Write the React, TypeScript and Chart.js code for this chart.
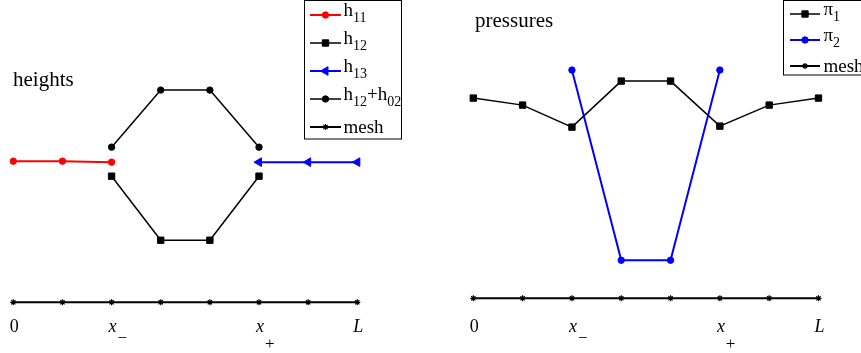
import React, { useEffect, useRef } from 'react';
import { Chart, registerables } from 'chart.js';
Chart.register(...registerables);

// ---------- data ----------
const meshX = [0, 1, 2, 3, 4, 5, 6, 7];
const meshLeft = [0, 0, 0, 0, 0, 0, 0, 0];
const meshRight = [0, 0, 0, 0, 0, 0, 0, 0];

const h11X = [0, 1, 2];
const h11 = [1.41, 1.41, 1.4];
const h12X = [2, 3, 4, 5];
const h12 = [1.26, 0.62, 0.62, 1.26];
const h13X = [5, 6, 7];
const h13 = [1.4, 1.4, 1.4];
const h12h02X = [2, 3, 4, 5];
const h12h02 = [1.55, 2.12, 2.12, 1.55];

const pi1X = [0, 1, 2, 3, 4, 5, 6, 7];
const pi1 = [2.0, 1.93, 1.71, 2.17, 2.17, 1.72, 1.93, 2.0];
const pi2X = [2, 3, 4, 5];
const pi2 = [2.28, 0.38, 0.38, 2.28];

const tickValues = [0, 2, 5, 7];
const tickMain = ['0', 'x', 'x', 'L'];
const tickSub = ['', '\u2212', '+', ''];
const tickItalic = [false, true, true, true];

type Part = { t: string; sub?: boolean };
const leftLegendLabels: Part[][] = [
  [{ t: 'h' }, { t: '11', sub: true }],
  [{ t: 'h' }, { t: '12', sub: true }],
  [{ t: 'h' }, { t: '13', sub: true }],
  [{ t: 'h' }, { t: '12', sub: true }, { t: '+h' }, { t: '02', sub: true }],
  [{ t: 'mesh' }],
];
const rightLegendLabels: Part[][] = [
  [{ t: '\u03c0' }, { t: '1', sub: true }],
  [{ t: '\u03c0' }, { t: '2', sub: true }],
  [{ t: 'mesh' }],
];

const SERIF = "'Liberation Serif', 'DejaVu Serif', serif";
const RED = '#ff0000';
const BLUE = '#0000ff';
const BLACK = '#000000';

type Marker = { style: string; color: string; lw: number; size: number };

function drawMarker(ctx: CanvasRenderingContext2D, x: number, y: number, m: Marker) {
  ctx.save();
  ctx.fillStyle = m.color;
  ctx.strokeStyle = m.color;
  ctx.lineWidth = 1;
  const r = m.size;
  ctx.beginPath();
  if (m.style === 'circle') {
    ctx.arc(x, y, r, 0, Math.PI * 2);
    ctx.fill();
    ctx.stroke();
  } else if (m.style === 'rect') {
    const s = Math.SQRT1_2 * r;
    ctx.rect(x - s, y - s, 2 * s, 2 * s);
    ctx.fill();
    ctx.stroke();
  } else if (m.style === 'triLeft') {
    ctx.moveTo(x - r, y);
    ctx.lineTo(x + r * 0.5, y - r * 0.866);
    ctx.lineTo(x + r * 0.5, y + r * 0.866);
    ctx.closePath();
    ctx.fill();
    ctx.stroke();
  } else if (m.style === 'star') {
    ctx.lineWidth = 1.2;
    ctx.moveTo(x - r, y);
    ctx.lineTo(x + r, y);
    ctx.moveTo(x, y - r);
    ctx.lineTo(x, y + r);
    const d = r * 0.707;
    ctx.moveTo(x - d, y - d);
    ctx.lineTo(x + d, y + d);
    ctx.moveTo(x - d, y + d);
    ctx.lineTo(x + d, y - d);
    ctx.stroke();
  }
  ctx.restore();
}

function drawRich(
  ctx: CanvasRenderingContext2D,
  x: number,
  baseY: number,
  parts: Part[],
  mainFont: string,
  subFont: string,
  subDy: number
) {
  let cx = x;
  ctx.textAlign = 'left';
  ctx.textBaseline = 'alphabetic';
  for (const p of parts) {
    ctx.font = p.sub ? subFont : mainFont;
    ctx.fillText(p.t, cx, p.sub ? baseY + subDy : baseY);
    cx += ctx.measureText(p.t).width;
  }
  return cx - x;
}

type PanelCfg = {
  title: string;
  titleX: number;
  titleY: number;
  legend: {
    x0: number;
    x1: number;
    y1: number;
    rowY0: number;
    rowStep: number;
    lineX0: number;
    lineX1: number;
    textX: number;
    labels: Part[][];
    markers: Marker[];
    lineColors: string[];
    lineWidths: number[];
  };
};

function makeOverlay(cfg: PanelCfg) {
  return {
    id: 'overlay',
    afterDraw(chart: any) {
      const ctx: CanvasRenderingContext2D = chart.ctx;
      const xs = chart.scales.x;
      ctx.save();
      ctx.fillStyle = '#000';
      // title
      ctx.font = `21px ${SERIF}`;
      ctx.textAlign = 'left';
      ctx.textBaseline = 'alphabetic';
      ctx.fillText(cfg.title, cfg.titleX, cfg.titleY);

      // tick labels
      tickValues.forEach((v, i) => {
        const px = xs.getPixelForValue(v) + 1;
        const mf = `${tickItalic[i] ? 'italic ' : ''}18px ${SERIF}`;
        ctx.font = mf;
        const w = ctx.measureText(tickMain[i]).width;
        const left = px - w / 2;
        ctx.textAlign = 'left';
        ctx.fillText(tickMain[i], left, 332);
        if (tickSub[i]) {
          ctx.font = `17px ${SERIF}`;
          ctx.fillText(tickSub[i], left + w + 1, tickSub[i] === '+' ? 349 : 343);
        }
      });

      // legend
      const L = cfg.legend;
      ctx.fillStyle = '#fff';
      ctx.fillRect(L.x0, 0.5, L.x1 - L.x0, L.y1 - 0.5);
      ctx.strokeStyle = '#000';
      ctx.lineWidth = 1;
      ctx.strokeRect(L.x0, 0.5, L.x1 - L.x0, L.y1 - 0.5);
      L.labels.forEach((parts, i) => {
        const y = L.rowY0 + i * L.rowStep;
        ctx.beginPath();
        ctx.strokeStyle = L.lineColors[i];
        ctx.lineWidth = L.lineWidths[i];
        ctx.moveTo(L.lineX0, y);
        ctx.lineTo(L.lineX1, y);
        ctx.stroke();
        drawMarker(ctx, (L.lineX0 + L.lineX1) / 2, y, L.markers[i]);
        ctx.fillStyle = '#000';
        const hasSub = parts.some((p) => p.sub);
        drawRich(
          ctx,
          L.textX,
          hasSub ? y + 1 : y + 5.5,
          parts,
          `19px ${SERIF}`,
          `14px ${SERIF}`,
          6
        );
      });
      ctx.restore();
    },
  };
}

function pts(xs: number[], ys: number[]) {
  return xs.map((x, i) => ({ x, y: ys[i] }));
}

function ds(data: any[], color: string, width: number, pointStyle: string, radius: number, rotation = 0) {
  return {
    data,
    borderColor: color,
    backgroundColor: color,
    borderWidth: width,
    pointStyle,
    pointRadius: radius,
    pointHoverRadius: radius,
    pointBackgroundColor: color,
    pointBorderColor: color,
    pointBorderWidth: pointStyle === 'star' ? 1.2 : 1,
    pointRotation: rotation,
    tension: 0,
    clip: false as any,
  };
}

function Panel(props: {
  left: number;
  width: number;
  datasets: any[];
  padding: any;
  yMax: number;
  cfg: PanelCfg;
}) {
  const ref = useRef<HTMLCanvasElement>(null);
  useEffect(() => {
    const chart = new Chart(ref.current as HTMLCanvasElement, {
      type: 'line',
      data: { datasets: props.datasets },
      options: {
        responsive: false,
        animation: false,
        events: [],
        layout: { padding: props.padding, autoPadding: false },
        scales: {
          x: { type: 'linear', min: 0, max: 7, display: false },
          y: { type: 'linear', min: 0, max: props.yMax, display: false },
        },
        plugins: { legend: { display: false }, tooltip: { enabled: false } },
      },
      plugins: [makeOverlay(props.cfg)],
    } as any);
    return () => chart.destroy();
  }, []);
  return (
    <canvas
      ref={ref}
      width={props.width}
      height={353}
      style={{ position: 'absolute', left: props.left, top: 0, width: props.width, height: 353 }}
    />
  );
}

export default function App() {
  const leftDatasets = [
    ds(pts(meshX, meshLeft), BLACK, 2, 'star', 3),
    ds(pts(h12X, h12), BLACK, 1.5, 'rect', 4.5),
    ds(pts(h12h02X, h12h02), BLACK, 1.5, 'circle', 3.2),
    ds(pts(h11X, h11), RED, 2, 'circle', 3.2),
    ds(pts(h13X, h13), BLUE, 2, 'triangle', 5, -90),
  ];
  const rightDatasets = [
    ds(pts(meshX, meshRight), BLACK, 2, 'star', 3),
    ds(pts(pi1X, pi1), BLACK, 1.5, 'rect', 4.5),
    ds(pts(pi2X, pi2), BLUE, 2, 'circle', 3.2),
  ];
  const leftCfg: PanelCfg = {
    title: 'heights',
    titleX: 13,
    titleY: 86,
    legend: {
      x0: 304.5,
      x1: 401.5,
      y1: 139,
      rowY0: 15,
      rowStep: 28,
      lineX0: 310,
      lineX1: 341,
      textX: 343.5,
      labels: leftLegendLabels,
      markers: [
        { style: 'circle', color: RED, lw: 2, size: 3.2 },
        { style: 'rect', color: BLACK, lw: 1.5, size: 4.5 },
        { style: 'triLeft', color: BLUE, lw: 2, size: 5 },
        { style: 'circle', color: BLACK, lw: 1.5, size: 3.2 },
        { style: 'star', color: BLACK, lw: 2, size: 3 },
      ],
      lineColors: [RED, BLACK, BLUE, BLACK, BLACK],
      lineWidths: [2, 1.5, 2, 1.5, 2],
    },
  };
  const rightCfg: PanelCfg = {
    title: 'pressures',
    titleX: 45,
    titleY: 27,
    legend: {
      x0: 353.5,
      x1: 460,
      y1: 75,
      rowY0: 14,
      rowStep: 26,
      lineX0: 360,
      lineX1: 390,
      textX: 393.5,
      labels: rightLegendLabels,
      markers: [
        { style: 'rect', color: BLACK, lw: 1.5, size: 4.5 },
        { style: 'circle', color: BLUE, lw: 2, size: 3.2 },
        { style: 'star', color: BLACK, lw: 2, size: 3 },
      ],
      lineColors: [BLACK, BLUE, BLACK],
      lineWidths: [1.5, 2, 2],
    },
  };
  return (
    <div
      style={{
        position: 'fixed',
        left: 0,
        top: 0,
        width: 861,
        height: 353,
        background: '#fff',
        overflow: 'hidden',
      }}
    >
      <Panel
        left={0}
        width={430}
        datasets={leftDatasets}
        padding={{ left: 13.3, right: 72.7, top: 0, bottom: 50.7 }}
        yMax={3.02}
        cfg={leftCfg}
      />
      <Panel
        left={430}
        width={431}
        datasets={rightDatasets}
        padding={{ left: 43.3, right: 42.5, top: 0, bottom: 54.7 }}
        yMax={2.98}
        cfg={rightCfg}
      />
    </div>
  );
}
